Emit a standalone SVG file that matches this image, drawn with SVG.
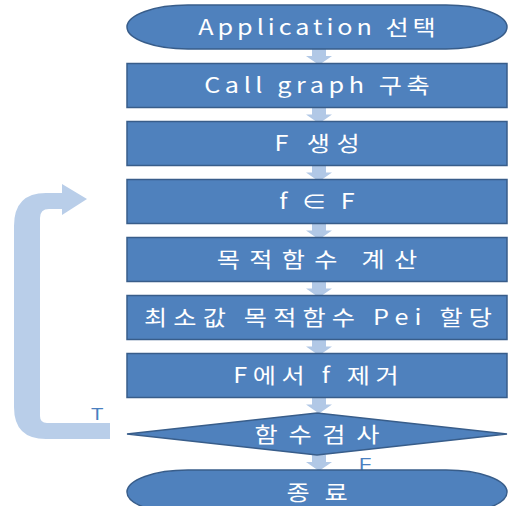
<svg xmlns="http://www.w3.org/2000/svg" width="508" height="506" viewBox="0 0 508 506">
<style>
.shape{fill:#4f81bd;stroke:#385d8a;stroke-width:1.5}
.lbl{font-family:"Noto Sans CJK KR","Liberation Sans",sans-serif;font-size:21px;fill:#ffffff;text-anchor:middle}
.cond{font-family:"Liberation Sans","Noto Sans CJK KR",sans-serif;font-size:17px;fill:#4a7fc0}
.conn{fill:#b1c8e6}
.loop{fill:#b9cee9}
</style>
<defs>
<path id="arr" d="M312,0 L326,0 L326,7 L332,7 L319,16 L306,7 L312,7 Z"/>
</defs>
<rect width="508" height="506" fill="#ffffff"/>
<g id="connectors">
<path class="loop" d="M110,423 L47,423 Q40,423 40,416 L40,218 Q40,209 49,209 L62,209 L62,215 L87,199 L62,184 L62,193 L46,193 Q14,193 14,226 L14,407 Q14,439 46,439 L110,439 Z"/>
<use href="#arr" class="conn" transform="translate(0,49)"/>
<use href="#arr" class="conn" transform="translate(0,107.5)"/>
<use href="#arr" class="conn" transform="translate(0,165.5)"/>
<use href="#arr" class="conn" transform="translate(0,223.5)"/>
<use href="#arr" class="conn" transform="translate(0,281.5)"/>
<use href="#arr" class="conn" transform="translate(0,339.5)"/>
<use href="#arr" class="conn" transform="translate(0,397.5)"/>
<use href="#arr" class="conn" transform="translate(0,455)"/>
<text class="cond" transform="translate(91,420) scale(1.2,1)">T</text>
<text class="cond" transform="translate(359,470) scale(1.2,1)">F</text>
</g>
<g id="start">
<rect class="shape" x="127" y="5" width="380" height="44" rx="61" ry="22"/>
<text class="lbl" transform="translate(317,35) scale(1.2,1)" textLength="198" lengthAdjust="spacing">Application 선택</text>
</g>
<g id="callgraph">
<rect class="shape" x="127" y="63.5" width="380" height="44"/>
<text class="lbl" transform="translate(317,93) scale(1.2,1)" textLength="188" lengthAdjust="spacing">Call graph 구축</text>
</g>
<g id="genF">
<rect class="shape" x="127" y="121.5" width="380" height="44"/>
<text class="lbl" transform="translate(317,151) scale(1.2,1)" textLength="71" lengthAdjust="spacing">F 생성</text>
</g>
<g id="pick">
<rect class="shape" x="127" y="179.5" width="380" height="44"/>
<text class="lbl" transform="translate(317,209) scale(1.2,1)" textLength="63" lengthAdjust="spacing">f ∈ F</text>
</g>
<g id="objective">
<rect class="shape" x="127" y="237.5" width="380" height="44"/>
<text class="lbl" transform="translate(317,267) scale(1.2,1)" textLength="167" lengthAdjust="spacing">목적함수 계산</text>
</g>
<g id="assign">
<rect class="shape" x="127" y="295.5" width="380" height="44"/>
<text class="lbl" transform="translate(318,325) scale(1.2,1)" textLength="290" lengthAdjust="spacing">최소값 목적함수 Pei 할당</text>
</g>
<g id="remove">
<rect class="shape" x="127" y="353.5" width="380" height="44"/>
<text class="lbl" transform="translate(316,383) scale(1.2,1)" textLength="138" lengthAdjust="spacing">F에서 f 제거</text>
</g>
<g id="check">
<polygon class="shape" points="127,434 317,413 507,434 317,455"/>
<text class="lbl" transform="translate(317,442) scale(1.2,1)" textLength="104" lengthAdjust="spacing">함수검사</text>
</g>
<g id="end">
<rect class="shape" x="127" y="470" width="380" height="44" rx="61" ry="22"/>
<text class="lbl" transform="translate(317,500) scale(1.2,1)" textLength="51" lengthAdjust="spacing">종료</text>
</g>
</svg>
